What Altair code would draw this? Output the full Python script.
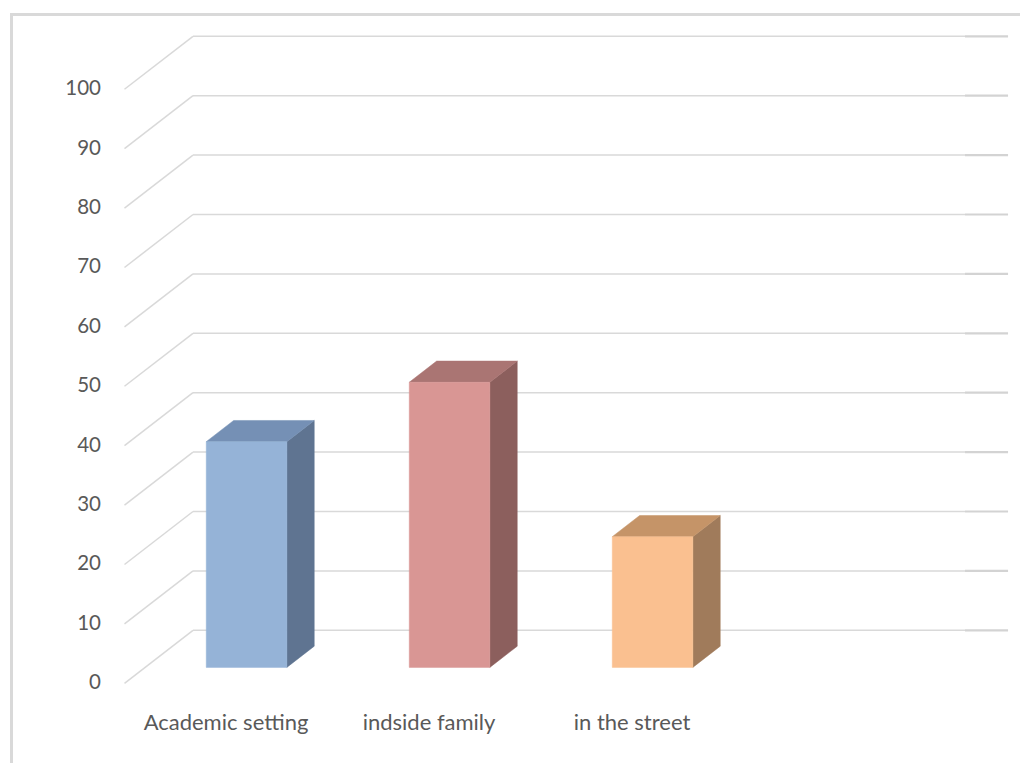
import altair as alt
import pandas as pd

# ---- data ----
categories = ["Academic setting", "indside family", "in the street"]
values = [38, 48, 22]
y_ticks = [0, 10, 20, 30, 40, 50, 60, 70, 80, 90, 100]

# ---- style ----
front_colors = ["#95B3D7", "#D99694", "#FAC090"]
side_colors = ["#5F7491", "#8C5F5D", "#A07B5B"]
top_colors = ["#7590B5", "#AA7573", "#C59468"]
GRID = "#D9D9D9"
TEXT = "#595959"
FONT = "Lato"

W, H = 1020, 763
X_DOMAIN = [-0.6133, 4.4113]   # slot units
Y_DOMAIN = [-13.42, 115.03]    # value units
DX = 0.3374                    # depth offset, slot units
DY = 8.92                      # depth offset, value units
FLOOR = 3.803                  # floor width, slot units
HW = 0.1985                    # half bar width
F0, F1 = 0.3, 0.7              # bar depth range (fraction)
RIGHT = 0.212                  # right wall stub

xs = alt.Scale(domain=X_DOMAIN, nice=False, zero=False)
ys = alt.Scale(domain=Y_DOMAIN, nice=False, zero=False)


def X(f, **kw):
    return alt.X(f, type="quantitative", scale=xs, axis=None, **kw)


def Y(f, **kw):
    return alt.Y(f, type="quantitative", scale=ys, axis=None, **kw)


grid = pd.DataFrame({"v": y_ticks})
grid["vb"] = grid["v"] + DY
grid["x0"] = 0.0
grid["xb"] = DX
grid["xe"] = FLOOR + DX
grid["xr"] = FLOOR + DX + RIGHT

diag = alt.Chart(grid).mark_rule(color=GRID, strokeWidth=1.5).encode(
    x=X("x0"), x2="xb", y=Y("v"), y2="vb")
back = alt.Chart(grid).mark_rule(color=GRID, strokeWidth=1.5).encode(
    x=X("xb"), x2="xe", y=Y("vb"))
right = alt.Chart(grid).mark_rule(color="#D3D3D3", strokeWidth=2.2).encode(
    x=X("xe"), x2="xr", y=Y("vb"))

fronts, sides, tops = [], [], []
for i, (c, v) in enumerate(zip(categories, values)):
    cx = i + 0.5 + F0 * DX
    xl, xr = cx - HW, cx + HW
    yb, yt = F0 * DY, v + F0 * DY
    d = (F1 - F0)
    fronts.append(dict(cat=c, xl=xl, xr=xr, yb=yb, yt=yt, fill=front_colors[i]))
    sides.append(dict(cat=c, x=xr, y=yb, y2=yt, fill=side_colors[i]))
    sides.append(dict(cat=c, x=xr + d * DX, y=yb + d * DY, y2=yt + d * DY, fill=side_colors[i]))
    tops.append(dict(cat=c, y=yt, x=xl, x2=xr, fill=top_colors[i]))
    tops.append(dict(cat=c, y=yt + d * DY, x=xl + d * DX, x2=xr + d * DX, fill=top_colors[i]))

front = alt.Chart(pd.DataFrame(fronts)).mark_rect(strokeWidth=0.5).encode(
    x=X("xl"), x2="xr", y=Y("yb"), y2="yt",
    fill=alt.Fill("fill:N", scale=None), stroke=alt.Stroke("fill:N", scale=None))
side = alt.Chart(pd.DataFrame(sides)).mark_area(orient="vertical", strokeWidth=0.5).encode(
    x=X("x"), y=Y("y", stack=False), y2="y2", detail="cat:N",
    fill=alt.Fill("fill:N", scale=None), stroke=alt.Stroke("fill:N", scale=None))
top = alt.Chart(pd.DataFrame(tops)).mark_area(orient="horizontal", strokeWidth=0.5).encode(
    y=Y("y"), x=X("x", stack=False), x2="x2", detail="cat:N",
    fill=alt.Fill("fill:N", scale=None), stroke=alt.Stroke("fill:N", scale=None))

ylabels = alt.Chart(grid).mark_text(align="right", baseline="middle", fontSize=20.5,
                                    font=FONT, color=TEXT).encode(
    x=alt.value(101), y=Y("v"), text="v:Q")

cats = pd.DataFrame({"cat": categories, "c": [i + 0.5 for i in range(len(categories))]})
xlabels = alt.Chart(cats).mark_text(align="center", baseline="alphabetic", fontSize=22,
                                    font=FONT, color=TEXT).encode(
    x=X("c"), y=alt.value(730), text="cat:N")

one = pd.DataFrame({"a": [0]})
border_l = alt.Chart(one).mark_rule(color=GRID, strokeWidth=3).encode(
    x=alt.value(11.5), y=alt.value(13), y2=alt.value(H))
border_t = alt.Chart(one).mark_rule(color=GRID, strokeWidth=3).encode(
    x=alt.value(10), x2=alt.value(W), y=alt.value(14.5))

chart = alt.layer(
    border_l, border_t, diag, back, right, side, top, front, ylabels, xlabels
).properties(
    width=W, height=H, autosize=alt.AutoSizeParams(type="none"), padding=0,
    background="white"
).configure_view(stroke=None)

chart.save("out.html", embed_options={"renderer": "svg", "actions": False})
